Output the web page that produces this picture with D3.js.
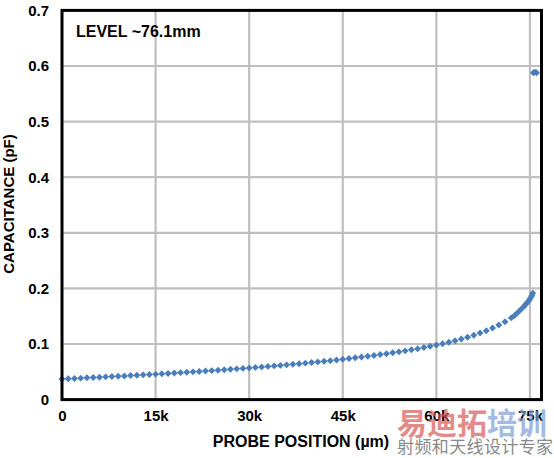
<!DOCTYPE html>
<html>
<head>
<meta charset="utf-8">
<script src="https://cdn.jsdelivr.net/npm/d3@7"></script>
<style>
  html, body { margin: 0; padding: 0; background: #fff; }
  svg { display: block; font-family: "Liberation Sans", Arial, Helvetica, sans-serif; }
</style>
</head>
<body>
<svg id="chart" width="554" height="458"></svg>
<script>
// ---- data (probe position in µm, capacitance in pF) ----
const positions = [
  0, 1000, 2000, 3000, 4000, 5000, 6000, 7000, 8000, 9000,
  10000, 11000, 12000, 13000, 14000, 15000, 16000, 17000, 18000, 19000,
  20000, 21000, 22000, 23000, 24000, 25000, 26000, 27000, 28000, 29000,
  30000, 31000, 32000, 33000, 34000, 35000, 36000, 37000, 38000, 39000,
  40000, 41000, 42000, 43000, 44000, 45000, 46000, 47000, 48000, 49000,
  50000, 51000, 52000, 53000, 54000, 55000, 56000, 57000, 58000, 59000,
  60000, 61000, 62000, 63000, 64000, 65000, 66000, 67000, 68000, 69000,
  70000, 71000, 72000, 72500, 73000, 73500, 74000, 74300, 74600, 74900,
  75100, 75300, 75450
];
const capacitance = [
  0.0370, 0.0375, 0.0381, 0.0386, 0.0392, 0.0397, 0.0403, 0.0409, 0.0414, 0.0420,
  0.0426, 0.0432, 0.0439, 0.0445, 0.0451, 0.0458, 0.0464, 0.0471, 0.0478, 0.0485,
  0.0492, 0.0499, 0.0506, 0.0514, 0.0521, 0.0529, 0.0537, 0.0545, 0.0553, 0.0561,
  0.0570, 0.0579, 0.0588, 0.0597, 0.0606, 0.0615, 0.0625, 0.0635, 0.0645, 0.0656,
  0.0667, 0.0678, 0.0689, 0.0701, 0.0713, 0.0726, 0.0738, 0.0752, 0.0765, 0.0780,
  0.0794, 0.0810, 0.0826, 0.0842, 0.0859, 0.0877, 0.0896, 0.0916, 0.0937, 0.0959,
  0.0982, 0.1006, 0.1033, 0.1060, 0.1090, 0.1123, 0.1158, 0.1197, 0.1239, 0.1287,
  0.1341, 0.1400, 0.1470, 0.1510, 0.1560, 0.1615, 0.1670, 0.1710, 0.1750, 0.1790,
  0.1830, 0.1870, 0.1915
];
// readings after the level is reached
const levelPositions = [75550, 75800, 76050];
const levelCapacitance = [0.588, 0.589, 0.588];

const xTicks = [0, 15000, 30000, 45000, 60000, 75000];
const xTickLabels = ["0", "15k", "30k", "45k", "60k", "75k"];
const yTicks = [0, 0.1, 0.2, 0.3, 0.4, 0.5, 0.6, 0.7];
const yTickLabels = ["0", "0.1", "0.2", "0.3", "0.4", "0.5", "0.6", "0.7"];

const xTitle = "PROBE POSITION (\u00b5m)";
const yTitle = "CAPACITANCE (pF)";
const legendText = "LEVEL ~76.1mm";

// ---- layout ----
const svg = d3.select("#chart");
const plot = { left: 62, right: 541.5, top: 10.4, bottom: 399.6 };

const x = d3.scaleLinear().domain([0, 76850]).range([plot.left, plot.right]);
const y = d3.scaleLinear().domain([0, 0.7]).range([plot.bottom, plot.top]);

const gridColor = "#bfbfbf";
const pointColor = "#4a7dbb";

// grid
const grid = svg.append("g");
grid.selectAll("line.gx").data(xTicks.slice(1)).join("line")
  .attr("x1", d => x(d)).attr("x2", d => x(d))
  .attr("y1", plot.top).attr("y2", plot.bottom)
  .attr("stroke", gridColor).attr("stroke-width", 2.2);
grid.selectAll("line.gy").data(yTicks.slice(1, -1)).join("line")
  .attr("x1", plot.left).attr("x2", plot.right)
  .attr("y1", d => y(d)).attr("y2", d => y(d))
  .attr("stroke", gridColor).attr("stroke-width", 2.2);

// axes (labels only, via d3 axes)
const xAxis = d3.axisBottom(x).tickValues(xTicks)
  .tickFormat((d, i) => xTickLabels[i]).tickSize(0).tickPadding(11);
const gx = svg.append("g").attr("transform", `translate(0,${plot.bottom})`).call(xAxis);
gx.select(".domain").remove();
gx.selectAll("text").attr("font-size", 15).attr("font-weight", "bold")
  .attr("fill", "#000").attr("font-family", "Liberation Sans, Arial, sans-serif");

const yAxis = d3.axisLeft(y).tickValues(yTicks)
  .tickFormat((d, i) => yTickLabels[i]).tickSize(0).tickPadding(13);
const gy = svg.append("g").attr("transform", `translate(${plot.left},0)`).call(yAxis);
gy.select(".domain").remove();
gy.selectAll("text").attr("font-size", 15).attr("font-weight", "bold")
  .attr("fill", "#000").attr("font-family", "Liberation Sans, Arial, sans-serif");

// data points
const pts = positions.map((p, i) => ({ p, c: capacitance[i] }))
  .concat(levelPositions.map((p, i) => ({ p, c: levelCapacitance[i] })));
const sym = d3.symbol().type(d3.symbolSquare).size(24);
svg.append("g").selectAll("path").data(pts).join("path")
  .attr("d", sym)
  .attr("transform", d => `translate(${x(d.p)},${y(d.c)}) rotate(45)`)
  .attr("fill", pointColor);

// plot border
svg.append("rect")
  .attr("x", plot.left).attr("y", plot.top)
  .attr("width", plot.right - plot.left).attr("height", plot.bottom - plot.top)
  .attr("fill", "none").attr("stroke", "#000").attr("stroke-width", 3);

// legend text
svg.append("text").attr("x", 76).attr("y", 37)
  .attr("font-size", 16).attr("font-weight", "bold").attr("fill", "#000")
  .text(legendText);

// axis titles
svg.append("text").attr("x", 301).attr("y", 447)
  .attr("text-anchor", "middle").attr("font-size", 16).attr("font-weight", "bold")
  .attr("fill", "#000").text(xTitle);
svg.append("text")
  .attr("transform", "translate(14,204) rotate(-90)")
  .attr("text-anchor", "middle").attr("font-size", 15).attr("font-weight", "bold")
  .attr("fill", "#000").text(yTitle);

// watermark
const wm = svg.append("g").attr("font-family", "Noto Sans CJK SC, sans-serif");
const wmTop = wm.append("text").attr("x", 397).attr("y", 434)
  .attr("font-size", 30).attr("font-weight", "bold").attr("opacity", 0.7);
wmTop.append("tspan").attr("fill", "#d85a5a").text("易迪拓");
wmTop.append("tspan").attr("fill", "#7f9ed4").text("培训");
wm.append("text").attr("x", 397).attr("y", 453)
  .attr("font-size", 17).attr("fill", "#8a8a8a").attr("textLength", 156)
  .text("射频和天线设计专家");
</script>
</body>
</html>
